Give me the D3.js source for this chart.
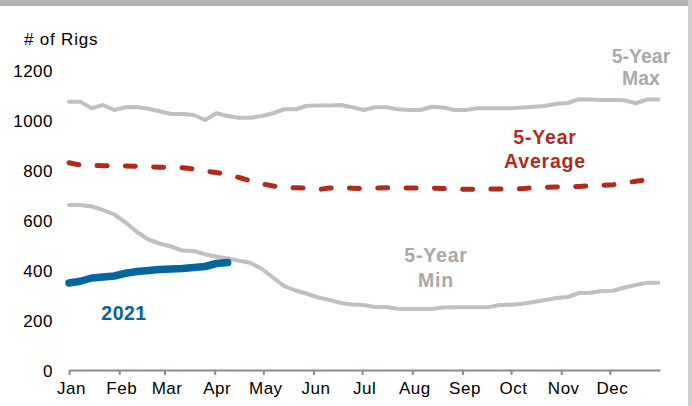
<!DOCTYPE html>
<html>
<head>
<meta charset="utf-8">
<script src="https://cdn.jsdelivr.net/npm/d3@7"></script>
<style>
  html, body { margin: 0; padding: 0; background: #ffffff; }
  svg { display: block; }
  text { font-family: "Liberation Sans", Arial, sans-serif; }
</style>
</head>
<body>
<div id="chart"></div>
<script>
// ---- data (weekly, starting Jan 1) ----
const months = ["Jan","Feb","Mar","Apr","May","Jun","Jul","Aug","Sep","Oct","Nov","Dec"];
const yTicks = [0, 200, 400, 600, 800, 1000, 1200];

const max5 = [1073,1073,1047,1060,1040,1051,1052,1045,1035,1024,1024,1020,1000,1027,1016,1009,
              1009,1016,1027,1043,1043,1057,1058,1058,1060,1051,1040,1051,1051,1043,1040,1040,
              1053,1050,1040,1040,1047,1047,1047,1047,1050,1053,1056,1065,1068,1083,1082,1080,
              1080,1079,1067,1082,1082];
const avg5 = [829,820,818,817,817,816,815,813,811,810,809,804,796,790,782,770,
              757,745,736,731,729,728,722,728,729,727,726,728,729,729,728,728,
              727,726,724,723,723,724,724,724,725,730,731,732,733,734,737,739,
              741,747,755,760,763];
const min5 = [660,660,654,640,622,590,552,522,506,494,478,476,463,453,447,437,
              429,405,370,335,318,305,290,280,268,262,260,252,252,245,244,244,
              244,250,251,251,251,251,260,261,265,272,280,288,292,308,309,316,
              317,330,340,349,349];
const y2021 = [348,355,368,372,376,387,394,398,402,404,406,410,414,426,430];

// ---- layout ----
const W = 692, H = 406;
const svg = d3.select("#chart").append("svg").attr("width", W).attr("height", H);

svg.append("rect").attr("x", 0).attr("y", 0).attr("width", W).attr("height", 6).attr("fill", "#b3b3b3");
svg.append("rect").attr("x", 688).attr("y", 0).attr("width", 4).attr("height", H).attr("fill", "#cdcdcd");

const start = new Date(2021, 0, 1);
const dateOf = i => d3.timeDay.offset(start, 7 * i);

const x = d3.scaleTime().domain([start, new Date(2022, 0, 1)]).range([69, 660]);
const y = d3.scaleLinear().domain([0, 1200]).range([370, 70]);

// y axis labels
const yAxis = d3.axisLeft(y).tickValues(yTicks).tickSize(0).tickPadding(0).tickFormat(d3.format("d"));
const gy = svg.append("g").attr("transform", "translate(53,0)").call(yAxis);
gy.select(".domain").remove();
gy.selectAll("text").attr("font-size", 17).attr("fill", "#000").attr("letter-spacing", "0.5px")
  .attr("font-family", "Liberation Sans, Arial, sans-serif").attr("dy", "0.4em");

// x axis
const monthStarts = d3.range(12).map(m => new Date(2021, m, 1));
const xAxis = d3.axisBottom(x).tickValues(monthStarts.concat([new Date(2022,0,1)])).tickSize(5).tickSizeOuter(0)
  .tickFormat((d) => d.getFullYear() === 2021 ? months[d.getMonth()] : "");
const gx = svg.append("g").attr("transform", "translate(0,370)").call(xAxis);
gx.select(".domain").attr("stroke", "#8c8c8c").attr("stroke-width", 2);
gx.selectAll(".tick line").attr("stroke", "#8c8c8c").attr("stroke-width", 2);
gx.selectAll(".tick").filter(d => d.getFullYear() === 2022).select("line").remove();
gx.selectAll("text").attr("font-size", 17).attr("fill", "#000").attr("dx", "2").attr("y", 12).attr("dy", "0.71em")
  .attr("letter-spacing", "0.5px").attr("font-family", "Liberation Sans, Arial, sans-serif");

// y axis title
svg.append("text").attr("x", 24).attr("y", 45).attr("font-size", 17).attr("letter-spacing", "0.8px")
  .attr("fill", "#000").text("# of Rigs");

// lines
const line = d3.line().x((d, i) => x(dateOf(i))).y(d => y(d)).curve(d3.curveLinear);

svg.append("path").datum(max5).attr("d", line).attr("fill", "none")
  .attr("stroke", "#c0c0c0").attr("stroke-width", 4).attr("stroke-linejoin", "round").attr("stroke-linecap", "round");
svg.append("path").datum(min5).attr("d", line).attr("fill", "none")
  .attr("stroke", "#c0c0c0").attr("stroke-width", 4).attr("stroke-linejoin", "round").attr("stroke-linecap", "round");
svg.append("path").datum(avg5).attr("d", line).attr("fill", "none")
  .attr("stroke", "#b2291d").attr("stroke-width", 5).attr("stroke-linejoin", "round").attr("stroke-linecap", "round")
  .attr("stroke-dasharray", "10,18.3");
svg.append("path").datum(y2021).attr("d", line).attr("fill", "none")
  .attr("stroke", "#04669e").attr("stroke-width", 7.5).attr("stroke-linejoin", "round").attr("stroke-linecap", "round");

// series labels
function label(lines, cx, baselines, color, size, ls) {
  const t = svg.append("text").attr("text-anchor", "middle").attr("font-weight", "bold")
    .attr("font-size", size).attr("fill", color).attr("letter-spacing", ls + "px");
  lines.forEach((s, k) => t.append("tspan").attr("x", cx).attr("y", baselines[k]).text(s));
}
label(["5-Year", "Max"], 641, [63, 85], "#a9a9a9", 19.5, 0);
label(["5-Year", "Average"], 545, [144, 168], "#b2291d", 19.5, 0.8);
label(["5-Year", "Min"], 436, [262, 287], "#a9a9a9", 19.5, 0.8);
label(["2021"], 124, [320], "#04669e", 19.5, 0.5);
</script>
</body>
</html>
